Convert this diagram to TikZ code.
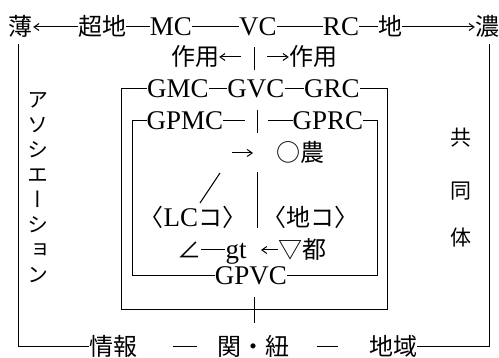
\documentclass[tikz,border=0pt]{standalone}
\usepackage{fontspec}
\setmainfont{Liberation Serif}
\newfontfamily\jpfam{Noto Sans CJK JP}
\newfontfamily\jpvfam[RawFeature=+vert]{Noto Sans CJK JP}
\usetikzlibrary{arrows.meta}
\newcommand\Jt[1]{{\jpfam\fontsize{24}{26}\selectfont #1}}
\begin{document}
\begin{tikzpicture}[x=1pt,y=-1pt,
  base/.style={inner sep=0pt, text height=18pt, text depth=0pt},
  lat/.style={base, font=\fontsize{27}{30}\selectfont},
  jp/.style={base, font=\jpfam\fontsize{24}{26}\selectfont},
  jpv/.style={base, font=\jpvfam\fontsize{21}{24}\selectfont},
  ln/.style={line width=1pt},
  arr/.style={ln, -{Straight Barb[length=5pt,width=7pt]}}]
\useasboundingbox (0,0) rectangle (499,358);
% top row
\node[jp] (usu) at (21,27) {薄};
\node[jp] (chochi) at (102,27) {超地};
\node[lat] (MC) at (171,27) {MC};
\node[lat] (VC) at (258,27) {VC};
\node[lat] (RC) at (341,27) {RC};
\node[jp] (chi) at (390,27) {地};
\node[jp] (no) at (487,27) {濃};
\draw[arr] (chochi) -- (usu);
\draw[ln] (chochi) -- (MC);
\draw[ln] (MC) -- (VC);
\draw[ln] (VC) -- (RC);
\draw[ln] (RC) -- (chi);
\draw[arr] (chi) -- (no);
% sayo row
\node[jp] (sy1) at (195,57) {作用};
\node[jp] (sy2) at (313,57) {作用};
\coordinate (sa) at (241,57);
\coordinate (sb) at (267,57);
\coordinate (va) at (254,47);
\coordinate (vb) at (254,70);
\draw[arr] (sa) -- (sy1);
\draw[arr] (sb) -- (sy2);
\draw[ln] (va) -- (vb);
% GMC row and box 1
\node[lat] (GMC) at (178,89) {GMC};
\node[lat] (GVC) at (256,89) {GVC};
\node[lat] (GRC) at (332,89) {GRC};
\draw[ln] (GMC) -- (GVC);
\draw[ln] (GVC) -- (GRC);
\coordinate (b1tl) at (121,89);
\coordinate (b1bl) at (121,310);
\coordinate (b1br) at (387,310);
\coordinate (b1tr) at (387,89);
\draw[ln] (GMC) -- (b1tl) -- (b1bl) -- (b1br) -- (b1tr) -- (GRC);
% GPMC row and box 2
\node[lat] (GPMC) at (185,121) {GPMC};
\node[lat] (GPRC) at (328,121) {GPRC};
\node[lat] (GPVC) at (251,276) {GPVC};
\coordinate (pa) at (245,121);
\coordinate (pb) at (268,121);
\coordinate (pva) at (257,110);
\coordinate (pvb) at (257,133);
\draw[ln] (GPMC) -- (pa);
\draw[ln] (pb) -- (GPRC);
\draw[ln] (pva) -- (pvb);
\coordinate (b2tl) at (132,121);
\coordinate (b2bl) at (132,276);
\coordinate (b2br) at (377,276);
\coordinate (b2tr) at (377,121);
\draw[ln] (GPMC) -- (b2tl) -- (b2bl) -- (GPVC);
\draw[ln] (GPVC) -- (b2br) -- (b2tr) -- (GPRC);
% inner content
\coordinate (ra) at (232,153);
\coordinate (rb) at (253,153);
\draw[arr] (ra) -- (rb);
\node[jp] (nou) at (300,153) {○農};
\coordinate (sla) at (200,203);
\coordinate (slb) at (220,173);
\draw[ln] (sla) -- (slb);
\coordinate (ma) at (257,172);
\coordinate (mb) at (257,228);
\draw[ln] (ma) -- (mb);
\node[lat] (LC) at (193,218) {\Jt{〈}LC\Jt{コ〉}};
\node[jp] (chiko) at (310,218) {〈地コ〉};
\node[jp] (ang) at (189,250) {∠};
\node[lat] (gt) at (236,250) {gt};
\draw[ln] (ang) -- (gt);
\node[jp] (to) at (302,250) {▽都};
\coordinate (ta) at (261,250);
\draw[arr] (to) -- (ta);
% stem to bottom
\coordinate (vc1) at (254,297);
\coordinate (vc2) at (254,323);
\draw[ln] (vc1) -- (vc2);
% bottom row and frame
\node[jp] (joho) at (113,347) {情報};
\node[jp] (kan) at (253,347) {関・紐};
\node[jp] (chiiki) at (393,347) {地域};
\coordinate (flt) at (18,44);
\coordinate (fl) at (18,347);
\coordinate (frt) at (489,44);
\coordinate (fr) at (489,347);
\draw[ln] (flt) -- (fl) -- (joho);
\draw[ln] (frt) -- (fr) -- (chiiki);
\coordinate (d1a) at (173,347);
\coordinate (d1b) at (197,347);
\coordinate (d2a) at (317,347);
\coordinate (d2b) at (338,347);
\draw[ln] (d1a) -- (d1b);
\draw[ln] (d2a) -- (d2b);
% vertical labels
\node[jpv] (k1) at (38,99) {ア};
\node[jpv] (k2) at (38,124) {ソ};
\node[jpv] (k3) at (38,149) {シ};
\node[jpv] (k4) at (38,174) {エ};
\node[jpv] (k5) at (38,199) {ー};
\node[jpv] (k6) at (38,224) {シ};
\node[jpv] (k7) at (38,249) {ョ};
\node[jpv] (k8) at (38,274) {ン};
\node[jpv] (c1) at (461,137) {共};
\node[jpv] (c2) at (461,190) {同};
\node[jpv] (c3) at (461,237) {体};
\end{tikzpicture}
\end{document}
